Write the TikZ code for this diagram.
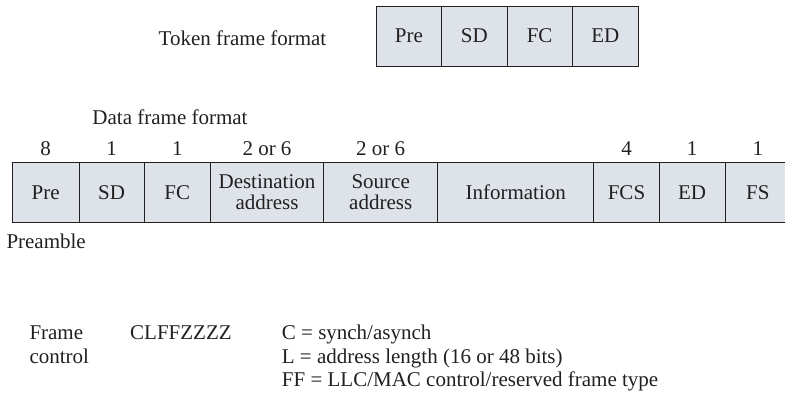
\documentclass[tikz,border=0pt]{standalone}
\usepackage{fontspec}
\setmainfont{Liberation Serif}
\definecolor{cellfill}{RGB}{221,227,232}
\definecolor{ink}{RGB}{35,31,32}

\begin{document}
\begin{tikzpicture}[x=1pt,y=-1pt,
  field/.style={draw=ink,fill=cellfill,line width=1pt,minimum height=60pt,
    inner sep=0pt,align=center,text=ink,font=\fontsize{21}{21.6}\selectfont},
  txt/.style={inner sep=0pt,text=ink,font=\fontsize{21}{23.5}\selectfont}]
\useasboundingbox (0,0) rectangle (785,392);
% token frame
\node[txt,anchor=base] (tokentitle) at (242.5,45) {Token frame format};
\foreach \l/\r/\lab [count=\i] in {376/441.7/Pre,441.7/507/SD,507/572.3/FC,572.3/638.3/ED}
  \node[field,minimum width={(\r-\l)*1pt}] (tok\i) at ({(\l+\r)/2},36) {\lab};
% data frame
\node[txt,anchor=base] (datatitle) at (170,124.3) {Data frame format};
\foreach \l/\r/\lab [count=\i] in {12.3/79/Pre,79/144.3/SD,144.3/210.3/FC,
    210.3/323.7/{Destination\\address},323.7/437.7/{Source\\address},
    437.7/593.7/Information,593.7/659.3/FCS,659.3/725/ED,725/790.7/FS}
  \node[field,minimum width={(\r-\l)*1pt}] (dat\i) at ({(\l+\r)/2},192.3) {\lab};
% octets
\foreach \i/\n in {1/8,2/1,3/1,4/2 or 6,5/2 or 6,7/4,8/1,9/1}
  \path (dat\i.north) ++(0,-6.3) node[txt,anchor=base] (num\i) {\n};
\node[txt,anchor=base west] (preamble) at (6.3,248.3) {Preamble};
% frame control
\node[txt,anchor=base west] (fcname) at (29.3,339.5) {Frame};
\node[txt,anchor=base west] (fcname2) at (29.3,363) {control};
\node[txt,anchor=base west] (fcbits) at (130,339.5) {CLFFZZZZ};
\foreach \y/\t [count=\i] in {339.5/{C = synch/asynch},
    363/{L = address length (16 or 48 bits)},
    386.5/{FF = LLC/MAC control/reserved frame type}}
  \node[txt,anchor=base west] (fcdef\i) at (281.7,\y) {\t};
\end{tikzpicture}
\end{document}
